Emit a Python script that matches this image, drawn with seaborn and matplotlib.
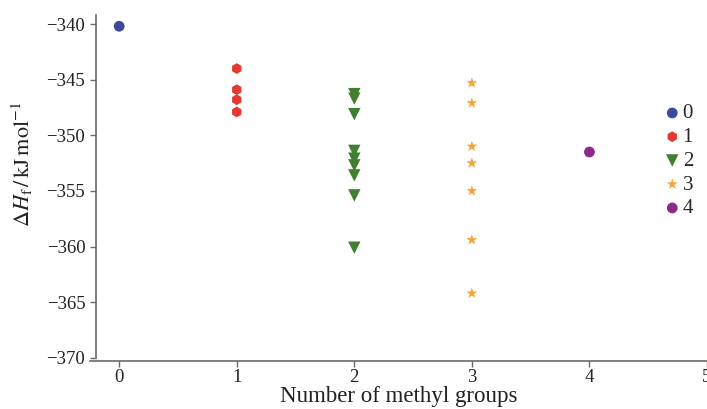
import pandas as pd
import numpy as np
import matplotlib.pyplot as plt
import seaborn as sns

sns.set_style('ticks')
plt.rcParams['font.family'] = ['Liberation Serif', 'DejaVu Serif']
plt.rcParams['mathtext.fontset'] = 'stix'

# Enthalpy values (kJ/mol), grouped by number of methyl groups
dh_0 = [-340.2]
dh_1 = [-344.0, -345.9, -346.8, -347.9]
dh_2 = [-346.3, -346.7, -348.1, -351.4, -352.1, -352.7, -353.6, -355.4, -360.1]
dh_3 = [-345.3, -347.1, -351.0, -352.5, -355.0, -359.4, -364.2]
dh_4 = [-351.5]

groups = ['0', '1', '2', '3', '4']
colors = ['#3c4a9c', '#e23a32', '#3f7f2f', '#f5a536', '#8b2a8b']
markers = ['o', 'h', 'v', '*', 'o']
sizes = [60, 60, 80, 70, 60]

rows = []
for g, vals in zip(groups, [dh_0, dh_1, dh_2, dh_3, dh_4]):
    for v in vals:
        rows.append({'n': int(g), 'group': g, 'dh': v})
data = pd.DataFrame(rows)

fig = plt.figure(figsize=(7.07, 4.09), dpi=100)
ax = fig.add_axes([0.127, 0.125, 0.873, 0.838])

for g, c, m, s in zip(groups, colors, markers, sizes):
    sub = data[data['group'] == g]
    sns.scatterplot(x=sub['n'], y=sub['dh'], color=c, marker=m, s=s,
                    edgecolor='none', label=g, ax=ax)

ax.set_xlim(-0.25, 5.0)
ax.set_ylim(-370, -339.2)
ax.set_xticks(range(0, 6))
ax.set_yticks(np.arange(-370, -339, 5))
ax.set_yticklabels([f'\u2212{abs(v)}' for v in range(-370, -339, 5)])

spine_col = '#6e6862'
for side in ['top', 'right']:
    ax.spines[side].set_visible(False)
ax.spines['left'].set_position(('data', -0.2))
ax.spines['bottom'].set_position(('outward', 2))
for side in ['left', 'bottom']:
    ax.spines[side].set_color(spine_col)
    ax.spines[side].set_linewidth(1.2)
ax.tick_params(colors=spine_col, labelcolor='#222222', labelsize=13.5, length=4, width=1.0)
ax.tick_params(axis='x', pad=2)

ax.set_xlabel('Number of methyl groups', fontsize=16.5, color='#222222', labelpad=0)
ax.set_ylabel(r'$\Delta H_\mathrm{f}\,/\,\mathrm{kJ\,mol^{-1}}$', fontsize=16,
              color='#222222')
ax.yaxis.set_label_coords(-0.088, 0.566)

leg = ax.legend(loc='center left', bbox_to_anchor=(0.942, 0.606),
                bbox_transform=fig.transFigure, frameon=False, fontsize=15,
                handletextpad=0.2, labelspacing=0.2, markerscale=1.0,
                handlelength=0.6, borderpad=0, borderaxespad=0)

fig.savefig('out.png', dpi=100)
